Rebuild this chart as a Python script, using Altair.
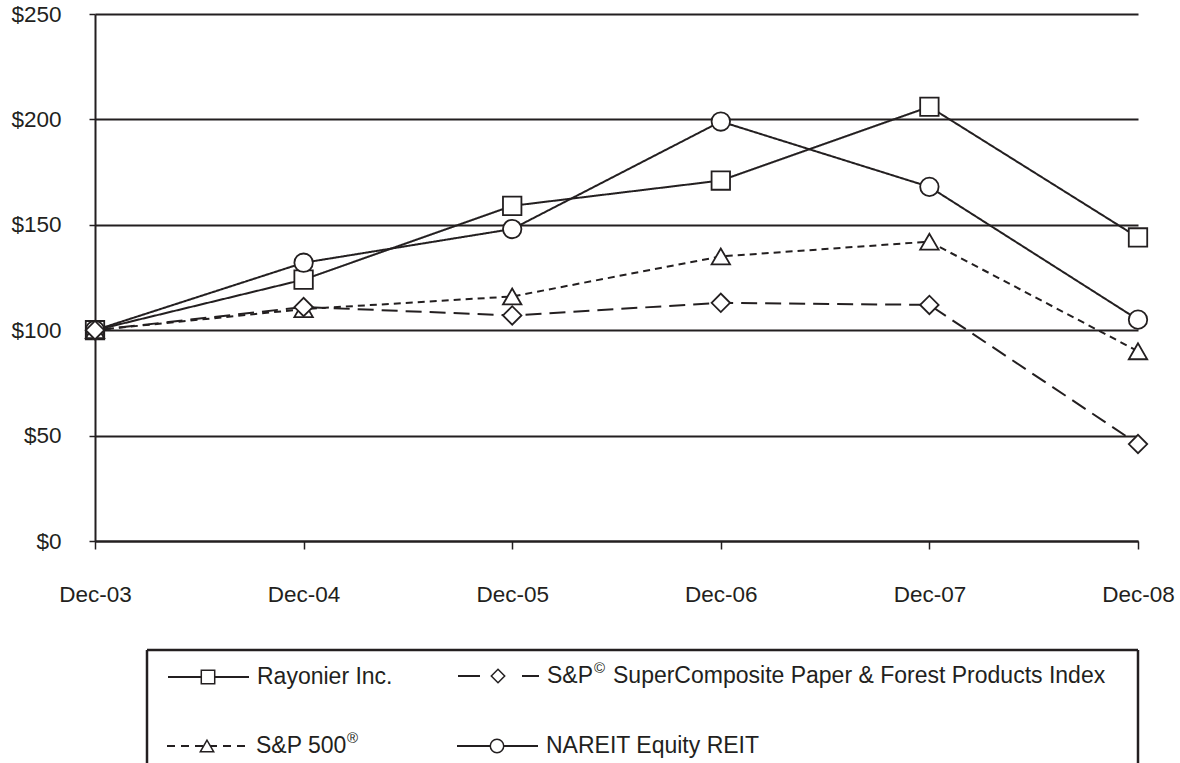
import altair as alt
import pandas as pd

# ---- data ----
dates = ["Dec-03", "Dec-04", "Dec-05", "Dec-06", "Dec-07", "Dec-08"]
series_names = [
    "Rayonier Inc.",
    "NAREIT Equity REIT",
    "S&P 500®",
    "S&P© SuperComposite Paper & Forest Products Index",
]
rayonier = [100, 124, 159, 171, 206, 144]
nareit = [100, 132, 148, 199, 168, 105]
sp500 = [100, 110, 116, 135, 142, 90]
paper = [100, 111, 107, 113, 112, 46]
y_ticks = [0, 50, 100, 150, 200, 250]

INK = "#231f20"
FONT = "Liberation Sans"
AX_FS = 22.5
LEG_FS = 23
shapes = ["square", "circle", "triangle-up", "diamond"]
dashes = [[1, 0], [1, 0], [7, 5], [16, 8]]
legend_dashes = [[1, 0], [1, 0], [8, 6], [22, 42, 22]]

values = [rayonier, nareit, sp500, paper]
rows = []
for name, vals in zip(series_names, values):
    for d, v in zip(dates, vals):
        rows.append({"series": name, "date": d, "value": v})
df = pd.DataFrame(rows)

dash_scale = alt.Scale(domain=series_names, range=dashes)
shape_scale = alt.Scale(domain=series_names, range=shapes)

x_enc = alt.X(
    "date:N",
    sort=dates,
    scale=alt.Scale(type="point", padding=0),
    axis=alt.Axis(
        title=None, labelAngle=0, tickSize=8, tickColor=INK, tickWidth=1.5,
        domainColor=INK, domainWidth=2, labelPadding=34, labelFontSize=AX_FS,
        labelColor=INK, labelFont=FONT, grid=False,
    ),
)
y_enc = alt.Y(
    "value:Q",
    scale=alt.Scale(domain=[0, 250], nice=False),
    axis=alt.Axis(
        title=None, values=y_ticks, labelExpr="'$' + datum.value",
        tickSize=6, tickColor=INK, tickWidth=1.5, labelPadding=28,
        labelFontSize=AX_FS, labelColor=INK, labelFont=FONT,
        grid=True, gridColor=INK, gridWidth=1.8,
        domainColor=INK, domainWidth=2,
    ),
)

base = alt.Chart(df)
lines = base.mark_line(color=INK, strokeWidth=2).encode(
    x=x_enc, y=y_enc,
    detail="series:N",
    strokeDash=alt.StrokeDash("series:N", scale=dash_scale, legend=None),
)
points = base.mark_point(
    fill="white", stroke=INK, strokeWidth=1.8, size=340, opacity=1, fillOpacity=1
).encode(
    x=x_enc, y=y_enc,
    shape=alt.Shape("series:N", scale=shape_scale, legend=None),
)
main = alt.layer(lines, points).properties(width=1043, height=527)

# ---- hand-built legend (layout block) ----
leg_names = [
    "Rayonier Inc.",
    "S&P© SuperComposite Paper & Forest Products Index",
    "S&P 500®",
    "NAREIT Equity REIT",
]
leg_main = ["Rayonier Inc.", "S&P", "S&P 500", "NAREIT Equity REIT"]
leg_sup = ["", "©", "®", ""]
leg_rest = ["", "SuperComposite Paper & Forest Products Index", "", ""]
leg_sup_dx = [0, 47, 91, 0]
leg_rest_dx = [0, 66, 0, 0]
leg_line_start = [168, 458, 167, 457]
leg_row_y = [675, 674, 744, 744]
LINE_LEN = 81
leg_df = pd.DataFrame({
    "series": leg_names,
    "main": leg_main,
    "sup": leg_sup,
    "rest": leg_rest,
    "x1": leg_line_start,
    "x2": [s + LINE_LEN for s in leg_line_start],
    "xm": [s + 40 for s in leg_line_start],
    "xt": [s + 89 for s in leg_line_start],
    "xs": [s + 89 + d for s, d in zip(leg_line_start, leg_sup_dx)],
    "xr": [s + 89 + d for s, d in zip(leg_line_start, leg_rest_dx)],
    "y": leg_row_y,
})
BOX_TOP, BOX_BOTTOM = 648, 761
box_df = pd.DataFrame({
    "x": [147, 147, 1138],
    "x2": [1138, 147, 1138],
    "y": [BOX_TOP, BOX_TOP, BOX_TOP],
    "y2": [BOX_TOP, BOX_BOTTOM, BOX_BOTTOM],
})

lx = alt.Scale(domain=[95, 1138])
ly = alt.Scale(domain=[BOX_TOP, BOX_BOTTOM], reverse=True)
leg_dash_scale = alt.Scale(domain=series_names, range=legend_dashes)

box = alt.Chart(box_df).mark_rule(color=INK, strokeWidth=2.5).encode(
    x=alt.X("x:Q", scale=lx, axis=None), x2="x2:Q",
    y=alt.Y("y:Q", scale=ly, axis=None), y2="y2:Q",
)
leg_lines = alt.Chart(leg_df).mark_rule(color=INK, strokeWidth=2).encode(
    x=alt.X("x1:Q", scale=lx, axis=None), x2="x2:Q",
    y=alt.Y("y:Q", scale=ly, axis=None),
    strokeDash=alt.StrokeDash("series:N", scale=leg_dash_scale, legend=None),
)
leg_pts = alt.Chart(leg_df).mark_point(
    fill="white", stroke=INK, strokeWidth=1.5, size=180, opacity=1, fillOpacity=1
).encode(
    x=alt.X("xm:Q", scale=lx, axis=None),
    y=alt.Y("y:Q", scale=ly, axis=None),
    shape=alt.Shape("series:N", scale=shape_scale, legend=None),
)
leg_text = alt.Chart(leg_df).mark_text(
    align="left", baseline="middle", fontSize=LEG_FS, font=FONT, color=INK
).encode(
    x=alt.X("xt:Q", scale=lx, axis=None),
    y=alt.Y("y:Q", scale=ly, axis=None),
    text="main:N",
)
leg_sup_text = alt.Chart(leg_df).mark_text(
    align="left", baseline="middle", fontSize=15, font=FONT, color=INK, dy=-8
).encode(
    x=alt.X("xs:Q", scale=lx, axis=None),
    y=alt.Y("y:Q", scale=ly, axis=None),
    text="sup:N",
)
leg_rest_text = alt.Chart(leg_df).mark_text(
    align="left", baseline="middle", fontSize=LEG_FS, font=FONT, color=INK
).encode(
    x=alt.X("xr:Q", scale=lx, axis=None),
    y=alt.Y("y:Q", scale=ly, axis=None),
    text="rest:N",
)
legend = alt.layer(
    box, leg_lines, leg_pts, leg_text, leg_sup_text, leg_rest_text
).properties(width=1043, height=BOX_BOTTOM - BOX_TOP)

chart = (
    alt.vconcat(main, legend, spacing=109, bounds="flush")
    .resolve_scale(strokeDash="independent")
    .properties(
        padding={"left": 10, "top": 3, "right": 0, "bottom": 0},
        background="white",
    )
    .configure(font=FONT)
    .configure_view(stroke="transparent", strokeWidth=0)
)

chart.save("out.html", embed_options={"renderer": "svg", "actions": False})
